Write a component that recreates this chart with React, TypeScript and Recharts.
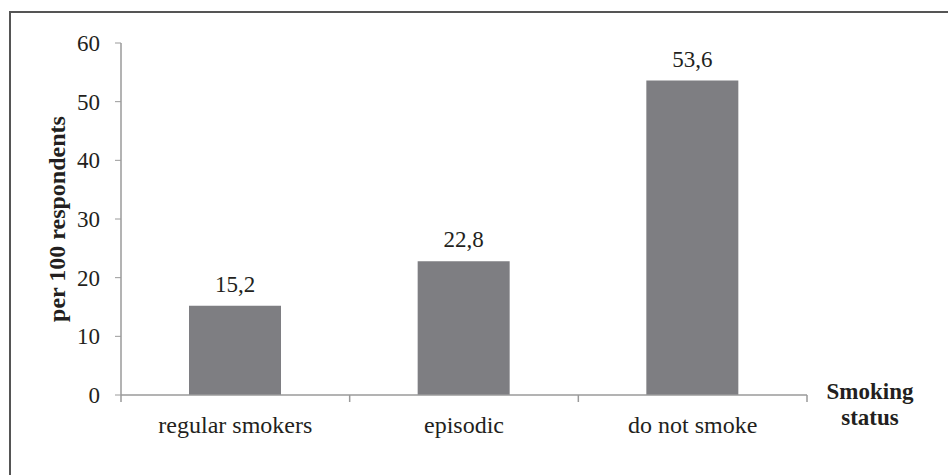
import React from 'react';
import { BarChart, Bar, XAxis, YAxis, LabelList, Label } from 'recharts';

const categories = ['regular smokers', 'episodic', 'do not smoke'];
const values = [15.2, 22.8, 53.6];
const yTicks = [0, 10, 20, 30, 40, 50, 60];
const yAxisTitle = 'per 100 respondents';
const xAxisTitle = ['Smoking', 'status'];

const data = categories.map((c, i) => ({ name: c, value: values[i] }));

const FONT = '"Liberation Serif", "Times New Roman", serif';
const TEXT = '#231f20';
const AXIS = '#9a9a9a';

const XTitle = (props: any) => {
  const vb = props.viewBox || {};
  const cx = vb.x + vb.width + 63;
  return (
    <text x={cx} y={vb.y + 4} textAnchor="middle" fontFamily={FONT} fontWeight="bold" fontSize={23} fill={TEXT}>
      <tspan x={cx} dy={0}>{xAxisTitle[0]}</tspan>
      <tspan x={cx} dy={26}>{xAxisTitle[1]}</tspan>
    </text>
  );
};

const CategoryTick = (props: any) => {
  const { x, y, payload, index } = props;
  const half = payload && payload.offset ? payload.offset : 0;
  const last = index === categories.length - 1;
  return (
    <g>
      <line x1={x - half} x2={x - half} y1={y} y2={y + 7} stroke={AXIS} strokeWidth={1.5} />
      {last && <line x1={x + half} x2={x + half} y1={y} y2={y + 7} stroke={AXIS} strokeWidth={1.5} />}
      <text x={x} y={y + 21} dy="0.71em" textAnchor="middle" fontFamily={FONT} fontSize={24} fill={TEXT}>
        {payload.value}
      </text>
    </g>
  );
};

export default function App() {
  return (
    <div style={{ position: 'absolute', left: 0, top: 0, width: 948, height: 475, overflow: 'hidden', background: '#fff' }}>
      <div style={{ position: 'absolute', left: 9, top: 11, width: 1200, height: 1200, border: '2px solid #555', boxSizing: 'border-box' }} />
      <div style={{ position: 'absolute', left: 0, top: 0 }}>
        <BarChart width={948} height={475} data={data} margin={{ top: 43, right: 141, bottom: 0, left: 0 }}>
          <XAxis
            dataKey="name"
            height={80}
            tickLine={false}
            tickSize={0}
            tickMargin={0}
            axisLine={{ stroke: AXIS, strokeWidth: 1.5 }}
            tick={<CategoryTick />}
            interval={0}
          >
            <Label content={<XTitle />} />
          </XAxis>
          <YAxis
            width={121}
            domain={[0, 60]}
            ticks={yTicks}
            interval={0}
            tickSize={6}
            tickMargin={15}
            axisLine={{ stroke: AXIS, strokeWidth: 1.5 }}
            tickLine={{ stroke: AXIS }}
            tick={{ fill: TEXT, fontSize: 23, fontFamily: FONT }}
          >
            <Label
              value={yAxisTitle}
              angle={-90}
              position="center"
              dx={-4}
              style={{ fontFamily: FONT, fontWeight: 'bold', fontSize: 24, fill: TEXT, textAnchor: 'middle' }}
            />
          </YAxis>
          <Bar dataKey="value" fill="#7e7e82" barSize={92} isAnimationActive={false}>
            <LabelList
              dataKey="value"
              position="top"
              offset={14}
              formatter={(v: any) => Number(v).toFixed(1).replace('.', ',')}
              style={{ fill: TEXT, fontSize: 23, fontFamily: FONT }}
            />
          </Bar>
        </BarChart>
      </div>
    </div>
  );
}
